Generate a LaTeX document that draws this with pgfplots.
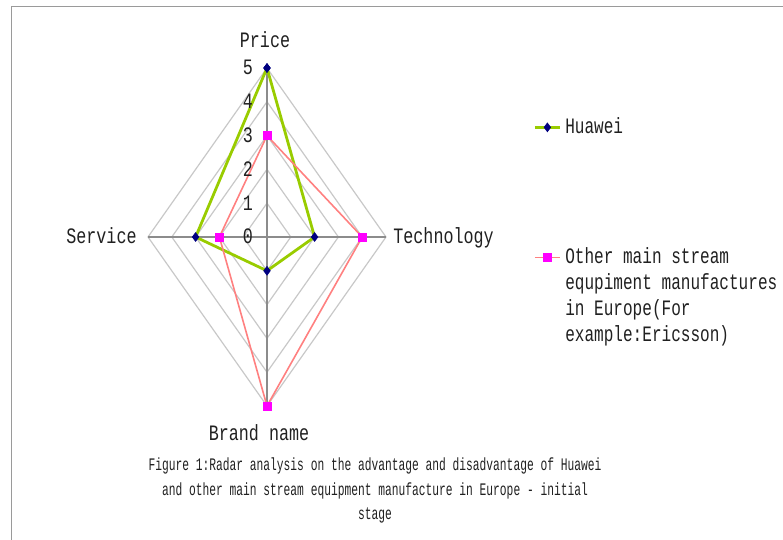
\documentclass[border=0pt]{standalone}
\usepackage{pgfplots}
\pgfplotsset{compat=1.18}
\usepackage{fontspec}
\setmainfont{Liberation Mono}[FakeStretch=0.76]
\newfontfamily\legfont{Liberation Mono}[FakeStretch=0.73]
\newfontfamily\capfont{Liberation Mono}[FakeStretch=0.64]
\definecolor{hwgreen}{HTML}{99CC00}
\definecolor{hwnavy}{HTML}{000080}
\definecolor{otpink}{HTML}{FF8080}
\definecolor{otmag}{HTML}{FF00FF}
\definecolor{gridc}{HTML}{C8C8C8}
\definecolor{spokec}{HTML}{8C8C8C}
\definecolor{framec}{HTML}{9A9A9A}
\definecolor{txt}{HTML}{202020}
\begin{document}
\begin{tikzpicture}[every node/.style={text=txt}]
\useasboundingbox (-133.5pt,-151.5pt) rectangle (258pt,118.5pt);
\draw[framec, line width=0.9pt] (-127.75pt,-151.5pt) -- (-127.75pt,115.25pt) -- (258pt,115.25pt);
\begin{axis}[
  anchor=origin, at={(0pt,0pt)},
  x=11.9pt, y=16.9pt,
  xmin=-5, xmax=5, ymin=-5, ymax=5,
  axis lines=none,
  clip=false,
  legend cell align=left,
  legend style={at={(1.618,0.864)}, anchor=north west, draw=none, fill=none,
    inner sep=0pt, row sep=0pt, column sep=2pt,
    nodes={inner sep=0pt, text height=9.5pt, text depth=3.5pt,
      font=\legfont\fontsize{11}{13}\selectfont, text=txt}},
  legend image code/.code={\draw[mark repeat=2,mark phase=2] plot coordinates {(0pt,0pt) (6.25pt,0pt) (12.5pt,0pt)};},
]
% radar grid (diamonds at 1..5)
\addplot[gridc, line width=0.6pt, forget plot] coordinates {(0,1) (1,0) (0,-1) (-1,0) (0,1)};
\addplot[gridc, line width=0.6pt, forget plot] coordinates {(0,2) (2,0) (0,-2) (-2,0) (0,2)};
\addplot[gridc, line width=0.6pt, forget plot] coordinates {(0,3) (3,0) (0,-3) (-3,0) (0,3)};
\addplot[gridc, line width=0.6pt, forget plot] coordinates {(0,4) (4,0) (0,-4) (-4,0) (0,4)};
\addplot[gridc, line width=0.6pt, forget plot] coordinates {(0,5) (5,0) (0,-5) (-5,0) (0,5)};
% spokes
\addplot[spokec, line width=0.7pt, forget plot] coordinates {(0,-5) (0,5)};
\addplot[spokec, line width=0.7pt, forget plot] coordinates {(-5,0) (5,0)};
% Huawei: Price 5, Technology 2, Brand name 1, Service 3
\addplot[hwgreen, line width=1.4pt, mark=diamond*, mark size=2.2pt,
  mark options={hwnavy, fill=hwnavy, line width=0.3pt}]
  coordinates {(0,5) (2,0) (0,-1) (-3,0) (0,5)};
\addlegendentry{Huawei}
\addlegendimage{empty legend}\addlegendentry{\mbox{}}
\addlegendimage{empty legend}\addlegendentry{\mbox{}}
\addlegendimage{empty legend}\addlegendentry{\mbox{}}
\addlegendimage{empty legend}\addlegendentry{\mbox{}}
% Other: Price 3, Technology 4, Brand name 5, Service 2
\addplot[otpink, line width=0.8pt, mark=square*, mark size=2pt,
  mark options={otmag, fill=otmag, line width=0.3pt}]
  coordinates {(0,3) (4,0) (0,-5) (-2,0) (0,3)};
\addlegendentry{Other main stream}
\addlegendimage{empty legend}\addlegendentry{equpiment manufactures}
\addlegendimage{empty legend}\addlegendentry{in Europe(For}
\addlegendimage{empty legend}\addlegendentry{example:Ericsson)}
\end{axis}
% axis labels
\begin{scope}[every node/.style={text=txt, font=\fontsize{11}{13}\selectfont, inner sep=0pt}]
\node[anchor=base] at (-1pt,94.5pt) {Price};
\node[anchor=base west] at (63pt,-3.5pt) {Technology};
\node[anchor=base east] at (-65pt,-3.5pt) {Service};
\node[anchor=base] at (-4pt,-102pt) {Brand name};
\foreach \k in {0,1,2,3,4,5} {
  \node[anchor=base] at (-9.5pt,{16.9pt*\k-3.5pt}) {\k};
}
\end{scope}
% caption
\begin{scope}[every node/.style={text=txt, font=\capfont\fontsize{8.8}{10}\selectfont, inner sep=0pt}]
\node[anchor=base] at (54pt,-117pt) {Figure 1:Radar analysis on the advantage and disadvantage of Huawei};
\node[anchor=base] at (54pt,-129.5pt) {and other main stream equipment manufacture in Europe - initial};
\node[anchor=base] at (54pt,-141.5pt) {stage};
\end{scope}
\end{tikzpicture}
\end{document}
